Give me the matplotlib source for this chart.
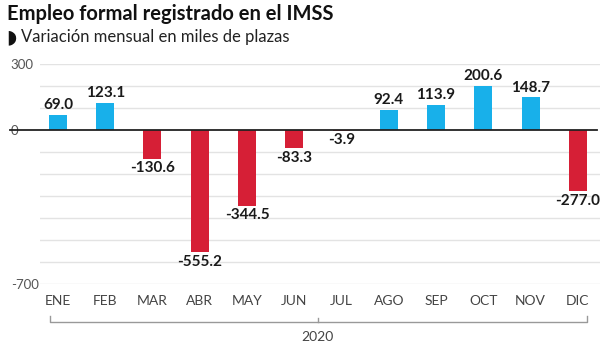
import matplotlib.pyplot as plt
import matplotlib.transforms as mtransforms
import numpy as np

plt.rcParams['font.family'] = ['Lato', 'DejaVu Sans']

meses = ['ENE', 'FEB', 'MAR', 'ABR', 'MAY', 'JUN', 'JUL', 'AGO', 'SEP', 'OCT', 'NOV', 'DIC']
valores = [69.0, 123.1, -130.6, -555.2, -344.5, -83.3, -3.9, 92.4, 113.9, 200.6, 148.7, -277.0]

azul = '#18b0ea'
rojo = '#d61f36'

fig = plt.figure(figsize=(6.09, 3.5), dpi=100)
ax = fig.add_axes([40/609, (350-284)/350, 560/609, 220/350])

x = np.arange(len(meses))
colores = [azul if v >= 0 else rojo for v in valores]
ax.bar(x, valores, width=0.38, color=colores, zorder=3)

ax.set_xlim(-0.38, 11.47)
ax.set_ylim(-700, 300)

# rejilla cada 100
for g in range(-700, 301, 100):
    if g != 0:
        ax.axhline(g, color='#e3e3e3', lw=1, zorder=1)
ax.axhline(0, xmin=-0.054, xmax=0.995, color='#222222', lw=1.3, zorder=4, clip_on=False)

# etiquetas de valor
for xi, v in zip(x, valores):
    if v >= 0:
        ax.text(xi, v + 12, f'{v:.1f}', ha='center', va='bottom', fontsize=11,
                fontweight='bold', color='#1a1a1a', zorder=5)
    else:
        ax.text(xi, v - 12, f'{v:.1f}', ha='center', va='top', fontsize=11,
                fontweight='bold', color='#1a1a1a', zorder=5)

# eje y
ax.set_yticks([300, 0, -700])
ax.set_yticklabels(['300', '0', '-700'])
ax.tick_params(axis='y', length=0, labelsize=9.5, labelcolor='#555555', pad=21)
for lab in ax.get_yticklabels():
    lab.set_horizontalalignment('left')

# eje x
ax.set_xticks(x)
ax.set_xticklabels(meses, fontsize=10, color='#444444')
ax.tick_params(axis='x', length=0, pad=8)

for s in ax.spines.values():
    s.set_visible(False)

# corchete del año
tr = mtransforms.blended_transform_factory(ax.transData, ax.transAxes)
ax.plot([-0.17, -0.17, 11.2, 11.2], [-0.145, -0.173, -0.173, -0.145], color='#999999',
        lw=1, transform=tr, clip_on=False)
ax.plot([5.5, 5.5], [-0.173, -0.155], color='#999999', lw=1, transform=tr, clip_on=False)
ax.text(5.5, -0.24, '2020', ha='center', va='center', fontsize=10, color='#444444',
        transform=tr)

# títulos
fig.text(7/609, 1 - 14/350, 'Empleo formal registrado en el IMSS', fontsize=14.5,
         fontweight='bold', color='#111111', va='center', ha='left')
fig.text(6/609, 1 - 37/350, '◗', fontsize=14, color='#111111', va='center', ha='left',
         family='DejaVu Sans')
fig.text(21/609, 1 - 37/350, 'Variación mensual en miles de plazas', fontsize=12,
         color='#222222', va='center', ha='left')

fig.savefig('out.png', dpi=100)
